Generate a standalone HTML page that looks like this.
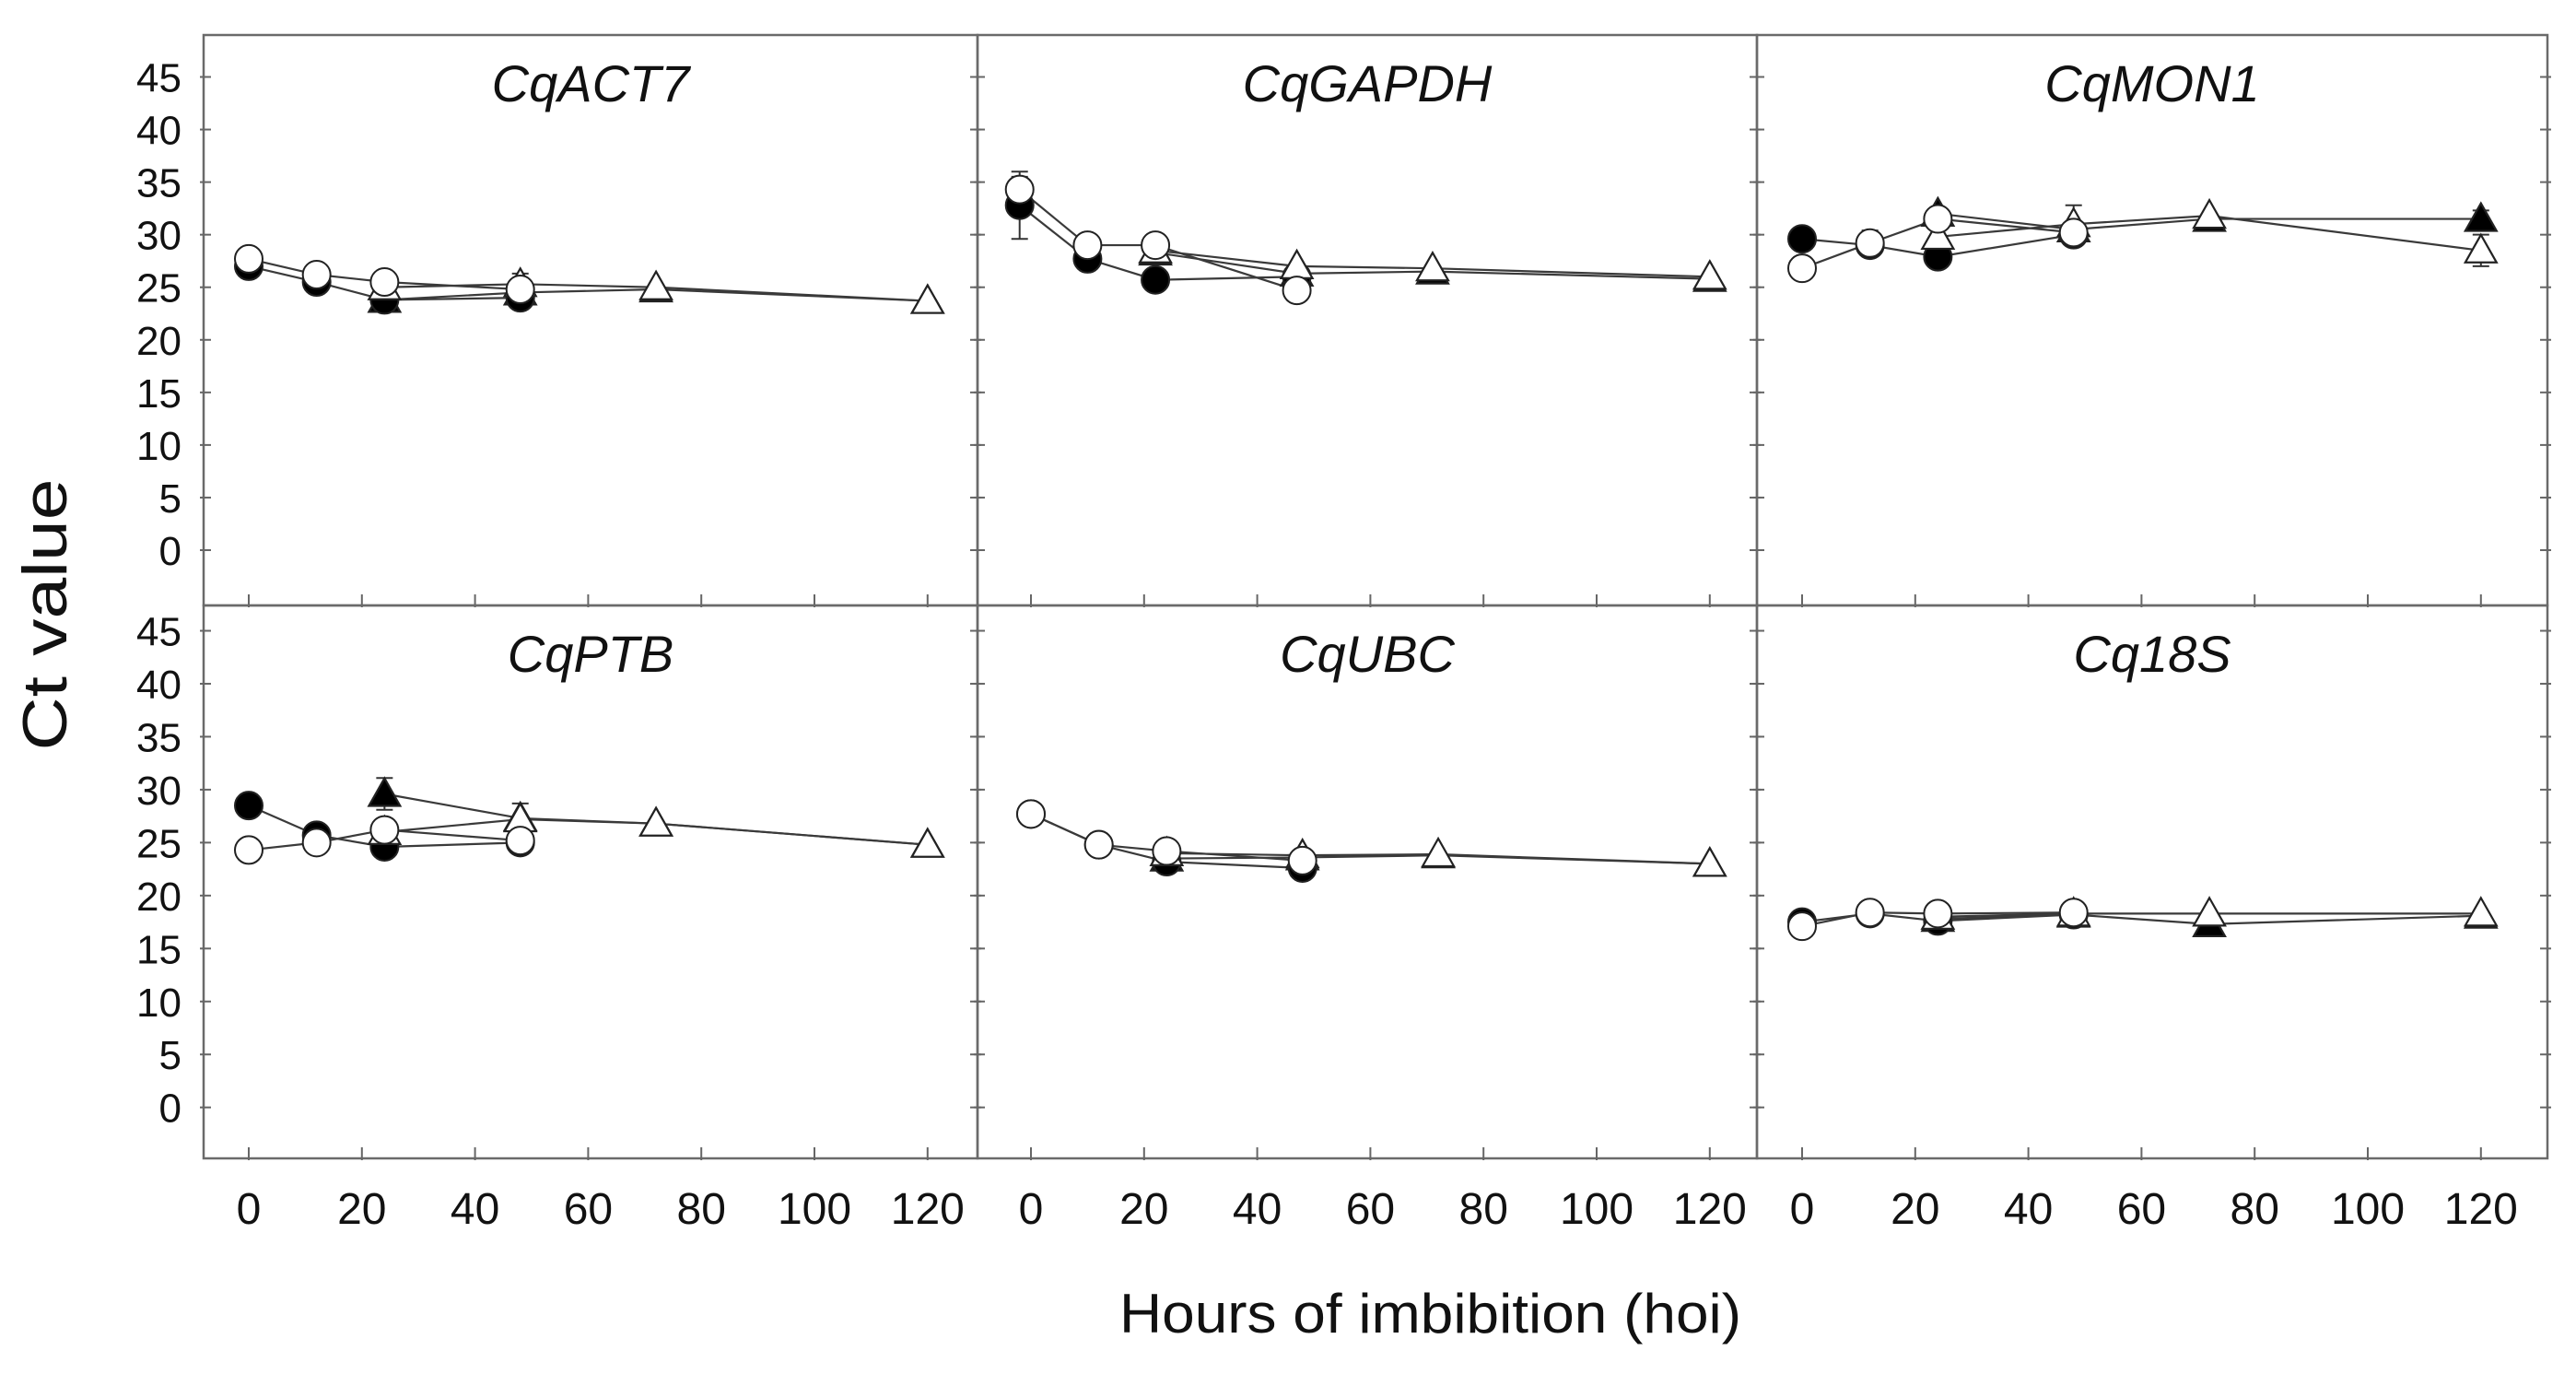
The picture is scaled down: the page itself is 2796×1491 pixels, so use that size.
<!DOCTYPE html>
<html><head><meta charset="utf-8"><style>
html,body{margin:0;padding:0;background:#fff}
svg{display:block}
</style></head><body>
<svg id="fig" width="2796" height="1491" viewBox="0 0 2796 1491" xmlns="http://www.w3.org/2000/svg" font-family="Liberation Sans, Arial, sans-serif">
<g id="panels"></g>
<text x="1215" y="1446" font-size="60" textLength="675" lengthAdjust="spacingAndGlyphs" fill="#111">Hours of imbibition (hoi)</text>
<text transform="translate(72,667) rotate(-90)" text-anchor="middle" font-size="68" textLength="295" lengthAdjust="spacingAndGlyphs" fill="#111">Ct value</text>
</svg>
<script>
// ---- data ----
const panelTitles = ["CqACT7","CqGAPDH","CqMON1","CqPTB","CqUBC","Cq18S"];
const xTicks = [0,20,40,60,80,100,120];
const yTicks = [0,5,10,15,20,25,30,35,40,45];
const circTimes = [0,12,24,48];
const triTimes = [24,48,72,120];
const gapdhCircTimes = [-2,10,22,47];
const gapdhTriTimes = [22,47,71,120];
// series: filled circle, open circle, filled triangle, open triangle
const act7FC = [27.0,25.5,23.8,24.0];
const act7OC = [27.7,26.2,25.5,24.8];
const act7FT = [23.8,24.5,24.8,23.7];
const act7OT = [25.0,25.3,25.0,23.7];
const gapdhFC = [32.8,27.7,25.7,26.0];
const gapdhOC = [34.3,29.0,29.0,24.7];
const gapdhFT = [28.3,26.3,26.5,25.8];
const gapdhOT = [28.5,27.0,26.8,26.0];
const mon1FC = [29.6,29.0,27.9,30.0];
const mon1OC = [26.8,29.2,31.5,30.2];
const mon1FT = [32.0,30.5,31.5,31.5];
const mon1OT = [29.8,31.0,31.8,28.5];
const ptbFC = [28.5,25.7,24.6,25.0];
const ptbOC = [24.3,25.0,26.2,25.2];
const ptbFT = [29.6,27.3,26.8,24.8];
const ptbOT = [26.0,27.2,26.8,24.8];
const ubcFC = [27.7,24.8,23.2,22.6];
const ubcOC = [27.7,24.8,24.2,23.3];
const ubcFT = [23.5,23.6,23.8,23.0];
const ubcOT = [24.0,23.8,23.9,23.0];
const s18FC = [17.5,18.3,17.6,18.2];
const s18OC = [17.1,18.4,18.3,18.4];
const s18FT = [17.8,18.2,17.3,18.1];
const s18OT = [18.0,18.3,18.3,18.3];
// error bars: [panel, series(0 FC,1 OC,2 FT,3 OT), point index, error]
const errorBars = [[1,0,0,3.2],[1,1,0,1.2],[2,3,3,1.5],[2,2,3,0.8],[2,1,3,1.0],[2,3,1,1.8],[3,2,0,1.5],[3,3,1,1.5],[3,1,3,1.0],[0,3,1,1.0],[2,0,0,0.8],[2,1,1,1.2]];

const panelData = [
 [act7FC,act7OC,act7FT,act7OT],
 [gapdhFC,gapdhOC,gapdhFT,gapdhOT],
 [mon1FC,mon1OC,mon1FT,mon1OT],
 [ptbFC,ptbOC,ptbFT,ptbOT],
 [ubcFC,ubcOC,ubcFT,ubcOT],
 [s18FC,s18OC,s18FT,s18OT]
];

// ---- layout ----
const NS = "http://www.w3.org/2000/svg";
const colL = [221,1061,1907], colR = [1061,1907,2765];
const tick0 = [270,1119,1956];
const rowT = [38,657], rowB = [657,1257];
const y0px = [597,1201.7], y45px = [83.5,684.5];
const pxPerHour = 122.8/20;
const root = document.getElementById('panels');

function mk(tag, attrs, parent){
  const e = document.createElementNS(NS, tag);
  for (const k in attrs) e.setAttribute(k, attrs[k]);
  parent.appendChild(e);
  return e;
}

for (let p=0;p<6;p++){
  const col=p%3, row=Math.floor(p/3);
  const g = mk('g',{},root);
  
  
  const xs = h => tick0[col] + h*pxPerHour;
  const ys = v => y0px[row] - v*(y0px[row]-y45px[row])/45;
  const frame = mk('rect',{x:colL[col],y:rowT[row],width:colR[col]-colL[col],height:rowB[row]-rowT[row],fill:'none',stroke:'#6a6a6a','stroke-width':2.5},g);
  
  
  yTicks.forEach(v=>{
    mk('line',{x1:colL[col]-4,x2:colL[col]+8,y1:ys(v),y2:ys(v),stroke:'#666','stroke-width':2},g);
    mk('line',{x1:colR[col]-8,x2:colR[col]+4,y1:ys(v),y2:ys(v),stroke:'#666','stroke-width':2},g);
    if(col===0){
      const t = mk('text',{x:197,y:ys(v)+16,'text-anchor':'end','font-size':44,fill:'#111'},g);
      
      
      t.textContent = v;
    }
  });
  xTicks.forEach(h=>{
    mk('line',{x1:xs(h),x2:xs(h),y1:rowB[row]-12,y2:rowB[row]+2,stroke:'#666','stroke-width':2},g);
    if(row===1){
      const t = mk('text',{x:xs(h),y:1328,'text-anchor':'middle','font-size':48,fill:'#111'},g);
      
      
      t.textContent = h;
    }
  });
  const tt = mk('text',{x:(colL[col]+colR[col])/2,y:rowT[row]+72,'text-anchor':'middle','font-size':56,'font-style':'italic',fill:'#111'},g);
  
  
  tt.textContent = panelTitles[p];

  const cT = p===1 ? gapdhCircTimes : circTimes;
  const tT = p===1 ? gapdhTriTimes : triTimes;
  const series = panelData[p];
  const timesFor = s => s<2 ? cT : tT;
  series.forEach((vals,s)=>{
    const pts = vals.map((v,i)=>xs(timesFor(s)[i])+','+ys(v)).join(' ');
    const pl = mk('polyline',{points:pts,fill:'none',stroke:'#3a3a3a','stroke-width':2.2},g);
    
    
  });
  errorBars.filter(e=>e[0]===p).forEach(e=>{
    const s=e[1], i=e[2], err=e[3];
    const x=xs(timesFor(s)[i]), v=series[s][i];
    mk('line',{x1:x,x2:x,y1:ys(v-err),y2:ys(v+err),stroke:'#333','stroke-width':2},g);
    mk('line',{x1:x-9,x2:x+9,y1:ys(v-err),y2:ys(v-err),stroke:'#333','stroke-width':2},g);
    mk('line',{x1:x-9,x2:x+9,y1:ys(v+err),y2:ys(v+err),stroke:'#333','stroke-width':2},g);
  });
  [2,0,3,1].forEach(s=>{
    series[s].forEach((v,i)=>{
      const x=xs(timesFor(s)[i]), y=ys(v);
      const filled = (s===0||s===2);
      let m;
      if(s<2){
        m = mk('circle',{cx:x,cy:y,r:15,fill:filled?'#000':'#fff',stroke:'#222','stroke-width':2},g);
      } else {
        m = mk('polygon',{points:`${x},${y-17} ${x+17},${y+13} ${x-17},${y+13}`,fill:filled?'#000':'#fff',stroke:'#222','stroke-width':2.2},g);
      }
      
      
    });
  });
}
</script>
</body></html>
